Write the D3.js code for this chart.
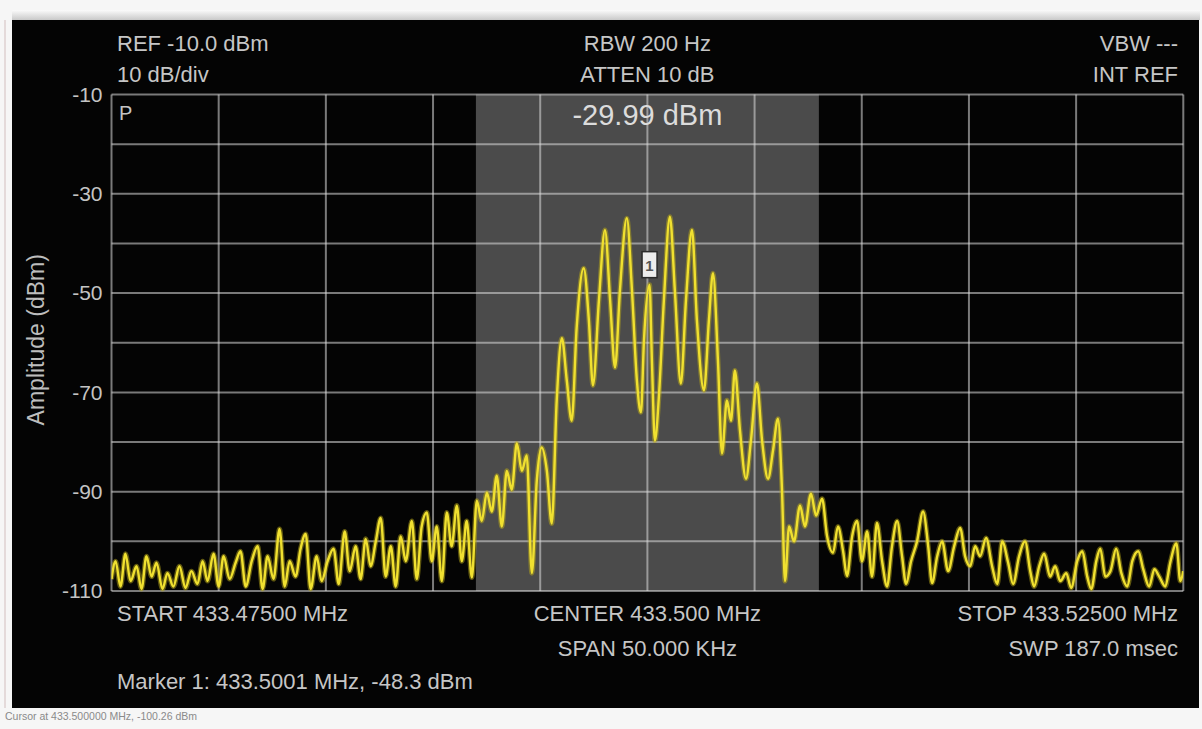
<!DOCTYPE html>
<html>
<head>
<meta charset="utf-8">
<script src="https://cdn.jsdelivr.net/npm/d3@7"></script>
<style>
  html, body { margin: 0; padding: 0; background: #f6f6f6; }
  svg { display: block; }
  text { font-family: "Liberation Sans", Arial, "DejaVu Sans", sans-serif; }
</style>
</head>
<body>
<svg id="chart" width="1202" height="729"></svg>
<script>
// Sweep: 433.475 – 433.525 MHz, frequencies stored as offset from centre (kHz)
const freqOffsetKHz = [
  -25.00,-24.81,-24.58,-24.35,-24.11,-23.83,-23.60,-23.37,-23.13,-22.90,
  -22.62,-22.39,-22.11,-21.83,-21.55,-21.27,-20.99,-20.75,-20.52,-20.24,
  -20.00,-19.77,-19.49,-19.21,-18.98,-18.74,-18.46,-18.18,-17.95,-17.72,
  -17.44,-17.16,-16.92,-16.69,-16.41,-16.18,-15.94,-15.71,-15.43,-15.20,
  -14.92,-14.64,-14.40,-14.12,-13.89,-13.61,-13.38,-13.14,-12.91,-12.67,
  -12.44,-12.21,-11.97,-11.74,-11.51,-11.27,-10.99,-10.76,-10.53,-10.29,
  -10.06,-9.83,-9.59,-9.36,-9.13,-8.89,-8.66,-8.43,-8.19,-7.96,
  -7.73,-7.49,-7.26,-7.03,-6.79,-6.56,-6.33,-6.09,-5.86,-5.63,
  -5.39,-5.16,-4.93,-4.69,-4.46,-4.23,-3.99,-3.76,-3.53,-3.30,
  -2.97,-2.73,-2.54,-2.26,-1.98,-1.74,-1.51,-1.28,-0.96,-0.72,
  -0.49,-0.30,-0.16,0.10,0.21,0.35,0.54,0.77,1.05,1.28,
  1.56,1.80,2.08,2.31,2.64,2.87,3.06,3.29,3.48,3.71,
  3.90,4.08,4.32,4.60,4.83,5.11,5.35,5.63,5.86,6.09,
  6.28,6.42,6.61,6.84,7.12,7.35,7.63,7.87,8.15,8.38,
  8.66,8.89,9.13,9.31,9.55,9.78,10.01,10.25,10.48,10.71,
  10.95,11.18,11.41,11.65,11.88,12.07,12.30,12.58,12.86,13.10,
  13.28,13.52,13.75,14.03,14.31,14.59,14.82,15.06,15.29,15.52,
  15.80,16.08,16.32,16.55,16.83,17.06,17.34,17.62,17.86,18.04,
  18.28,18.51,18.79,19.02,19.26,19.54,19.77,20.05,20.29,20.52,
  20.71,20.94,21.13,21.36,21.60,21.87,22.11,22.39,22.62,22.90,
  23.13,23.41,23.65,23.88,24.16,24.39,24.68,24.86,25.00
];

// Measured amplitude at each frequency (dBm)
const amplitudeDbm = [
  -107.6,-104.0,-109.1,-102.5,-108.0,-105.0,-109.6,-103.0,-107.1,-104.3,
  -109.6,-106.4,-109.1,-105.0,-109.4,-106.0,-108.6,-104.0,-108.0,-102.5,
  -109.1,-103.0,-107.6,-104.3,-102.0,-109.1,-104.0,-101.0,-109.6,-103.0,
  -107.6,-97.5,-109.1,-104.0,-107.1,-101.5,-98.5,-109.6,-103.0,-108.0,
  -104.0,-101.5,-108.6,-98.0,-106.0,-101.0,-107.6,-99.5,-105.0,-100.0,
  -95.3,-107.1,-101.0,-109.1,-99.0,-104.0,-95.9,-107.6,-97.0,-94.2,
  -104.0,-97.0,-108.0,-94.2,-101.0,-92.8,-104.0,-95.9,-107.3,-91.8,
  -95.9,-90.2,-94.0,-86.8,-97.0,-85.8,-89.6,-80.3,-85.8,-82.7,
  -106.4,-87.8,-81.1,-85.8,-96.4,-71.6,-59.1,-67.6,-75.7,-57.0,
  -45.0,-55.5,-68.6,-51.4,-37.3,-51.4,-65.0,-49.4,-34.9,-49.4,
  -67.6,-74.0,-59.5,-48.3,-63.5,-79.7,-70.6,-51.4,-34.6,-49.4,
  -68.2,-51.4,-37.3,-55.5,-69.6,-55.5,-46.0,-63.5,-82.3,-71.6,
  -75.7,-65.6,-77.7,-87.4,-79.7,-68.2,-79.7,-87.4,-81.7,-75.3,
  -89.8,-108.0,-97.0,-100.0,-92.8,-97.0,-90.4,-94.8,-91.4,-98.9,
  -102.3,-97.0,-102.0,-107.0,-99.0,-95.9,-104.0,-98.0,-107.1,-96.3,
  -104.0,-109.1,-101.0,-95.9,-103.0,-108.6,-104.0,-100.0,-94.0,-101.0,
  -108.4,-103.0,-100.0,-106.0,-101.0,-97.3,-103.0,-105.0,-101.0,-103.0,
  -99.3,-105.0,-108.6,-100.0,-104.3,-108.6,-103.0,-100.0,-106.0,-109.1,
  -105.0,-102.5,-107.1,-105.0,-108.0,-106.4,-109.4,-104.0,-102.0,-107.1,
  -109.6,-104.0,-101.5,-107.1,-106.0,-101.5,-106.4,-109.1,-104.0,-102.0,
  -105.6,-109.1,-105.6,-107.1,-109.1,-104.3,-100.4,-108.0,-106.0
];

// Axis definition
const yTickValues = [-10, -30, -50, -70, -90, -110];
const yDomain = [-10, -110];
const xDomainKHz = [-25, 25];

// Occupied-bandwidth window (kHz from centre) and marker
const obwKHz = [-8, 8];
const markerFreqKHz = [0.1];
const markerDbm = [-48.3];
const channelPower = ["-29.99 dBm"];

// Instrument annotations
const headerLeft = ["REF -10.0 dBm", "10 dB/div"];
const headerCenter = ["RBW 200 Hz", "ATTEN 10 dB"];
const headerRight = ["VBW ---", "INT REF"];
const footerLeft = ["START 433.47500 MHz"];
const footerCenter = ["CENTER 433.500 MHz", "SPAN 50.000 KHz"];
const footerRight = ["STOP 433.52500 MHz", "SWP 187.0 msec"];
const markerReadout = ["Marker 1: 433.5001 MHz, -48.3 dBm"];
const statusLine = ["Cursor at 433.500000 MHz, -100.26 dBm"];
const yAxisTitle = "Amplitude (dBm)";

const svg = d3.select("#chart");
const W = 1202, H = 729;

const plot = { left: 111.5, right: 1183.3, top: 94.5, bottom: 591 };

const x = d3.scaleLinear().domain(xDomainKHz).range([plot.left, plot.right]);
const y = d3.scaleLinear().domain(yDomain).range([plot.top, plot.bottom]);

// Window background and instrument panel
svg.append("rect").attr("width", W).attr("height", H).attr("fill", "#f6f6f6");
const defs = svg.append("defs");
const topGrad = defs.append("linearGradient")
  .attr("id", "topFade").attr("x1", 0).attr("x2", 0).attr("y1", 0).attr("y2", 1);
topGrad.append("stop").attr("offset", "0%").attr("stop-color", "#fbfbfb");
topGrad.append("stop").attr("offset", "100%").attr("stop-color", "#c9c9c9");
svg.append("rect").attr("x", 12).attr("y", 10).attr("width", 1188).attr("height", 10)
  .attr("fill", "url(#topFade)");
svg.append("line").attr("x1", 5).attr("x2", 5).attr("y1", 20).attr("y2", 708)
  .attr("stroke", "#e4dada").attr("stroke-width", 2);
svg.append("rect").attr("x", 12).attr("y", 20).attr("width", 1187).attr("height", 688)
  .attr("fill", "#040404");

// Shaded occupied-bandwidth region
svg.append("rect")
  .attr("x", x(obwKHz[0])).attr("y", plot.top)
  .attr("width", x(obwKHz[1]) - x(obwKHz[0]))
  .attr("height", plot.bottom - plot.top)
  .attr("fill", "#4b4b4b");

// Graticule: 10 dB vertical divisions, 5 kHz horizontal divisions
const gridColor = "rgba(220,220,220,0.55)";
const grid = svg.append("g");
grid.selectAll("line.h").data(d3.range(-10, -111, -10)).join("line")
  .attr("class", "h")
  .attr("x1", plot.left).attr("x2", plot.right)
  .attr("y1", d => y(d)).attr("y2", d => y(d))
  .attr("stroke", gridColor).attr("stroke-width", 2);
grid.selectAll("line.v").data(d3.range(-25, 25.01, 5)).join("line")
  .attr("class", "v")
  .attr("x1", d => x(d)).attr("x2", d => x(d))
  .attr("y1", plot.top).attr("y2", plot.bottom)
  .attr("stroke", gridColor).attr("stroke-width", 2);

// Y axis labels
const yAxis = d3.axisLeft(y).tickValues(yTickValues)
  .tickFormat(d => String(d)).tickSize(0).tickPadding(9);
const yg = svg.append("g").attr("transform", `translate(${plot.left},0)`).call(yAxis);
yg.select(".domain").remove();
yg.selectAll("text")
  .attr("fill", "#c4c4c4").attr("font-size", 21)
  .attr("font-family", "'Liberation Sans', Arial, sans-serif");

svg.append("text")
  .attr("transform", `translate(44,${(plot.top + plot.bottom) / 2 - 3}) rotate(-90)`)
  .attr("text-anchor", "middle")
  .attr("fill", "#bdbdbd").attr("font-size", 23)
  .text(yAxisTitle);

// Trace
const traceData = freqOffsetKHz.map((f, i) => ({ f, a: amplitudeDbm[i] }));
const line = d3.line().x(d => x(d.f)).y(d => y(d.a)).curve(d3.curveMonotoneX);

defs.append("clipPath").attr("id", "plotClip")
  .append("rect").attr("x", plot.left).attr("y", plot.top - 2)
  .attr("width", plot.right - plot.left).attr("height", plot.bottom - plot.top + 4);

const traceG = svg.append("g").attr("clip-path", "url(#plotClip)");
traceG.append("path").datum(traceData).attr("d", line)
  .attr("fill", "none").attr("stroke", "#b8a818").attr("stroke-opacity", 0.5)
  .attr("stroke-width", 5).attr("stroke-linejoin", "round");
traceG.append("path").datum(traceData).attr("d", line)
  .attr("fill", "none").attr("stroke", "#f0e030")
  .attr("stroke-width", 2.4).attr("stroke-linejoin", "round");

// Marker 1 flag
const mx = x(markerFreqKHz[0]), my = y(markerDbm[0]);
svg.append("rect")
  .attr("x", mx - 7.5).attr("y", my - 33).attr("width", 15).attr("height", 26)
  .attr("fill", "#ececec").attr("stroke", "#2a2a2a").attr("stroke-width", 1.5);
svg.append("text")
  .attr("x", mx).attr("y", my - 14)
  .attr("text-anchor", "middle").attr("fill", "#555").attr("font-size", 15)
  .attr("font-weight", "bold").text("1");

// Channel power readout
svg.append("text")
  .attr("x", x(0)).attr("y", 125)
  .attr("text-anchor", "middle").attr("fill", "#dcdcdc").attr("font-size", 29)
  .text(channelPower[0]);

svg.append("text").attr("x", 119).attr("y", 120)
  .attr("fill", "#c4c4c4").attr("font-size", 20).text("P");

// Annotation text blocks
const txtColor = "#c6c6c6";
function block(lines, xPos, y0, dy, anchor) {
  svg.append("g").selectAll("text").data(lines).join("text")
    .attr("x", xPos).attr("y", (d, i) => y0 + i * dy)
    .attr("text-anchor", anchor).attr("fill", txtColor).attr("font-size", 22)
    .text(d => d);
}
block(headerLeft, 117, 51, 31, "start");
block(headerCenter, x(0), 51, 31, "middle");
block(headerRight, 1178, 51, 31, "end");
block(footerLeft, 117, 621, 35, "start");
block(footerCenter, x(0), 621, 35, "middle");
block(footerRight, 1178, 621, 35, "end");
block(markerReadout, 117, 689, 0, "start");

// Status bar text below the panel
svg.append("text").attr("x", 5).attr("y", 720)
  .attr("fill", "#8a8a8a").attr("font-size", 10.5).text(statusLine[0]);
</script>
</body>
</html>
